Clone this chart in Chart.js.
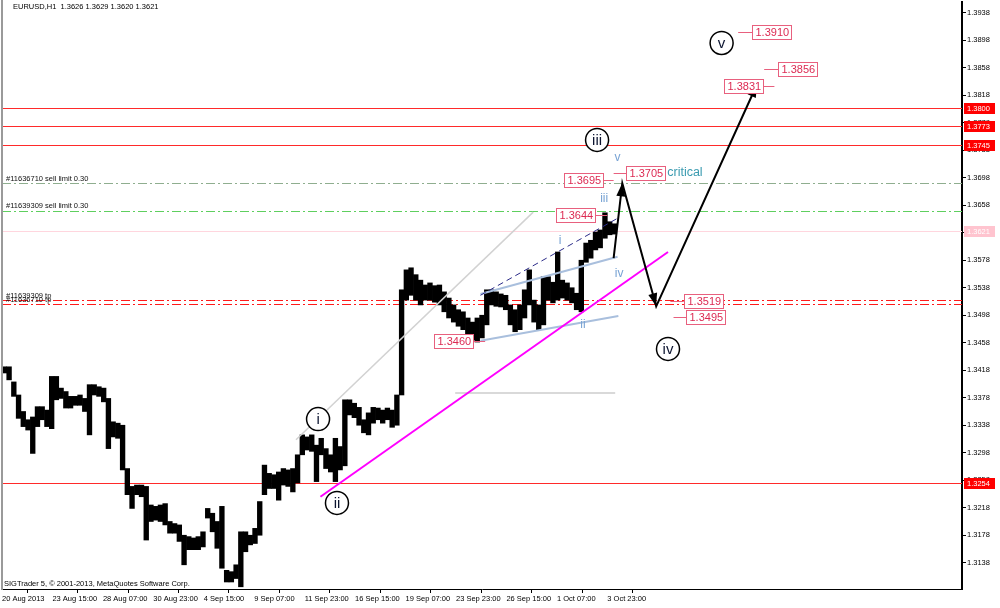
<!DOCTYPE html>
<html>
<head>
<meta charset="utf-8">
<script src="https://cdn.jsdelivr.net/npm/chart.js@4.4.0/dist/chart.umd.min.js"></script>
<style>
  html, body { margin: 0; padding: 0; background: #fff; }
  #chart { display: block; }
</style>
</head>
<body>
<canvas id="chart" width="1000" height="608"></canvas>
<script>
// EURUSD H1, 6-hour groups of bars (low / high)
const groupHours = 6;
const lows = [
  1.3414, 1.3404, 1.3380, 1.3348, 1.3336, 1.3331, 1.3297, 1.3336, 1.3346, 1.3336,
  1.3333, 1.3375, 1.3377, 1.3363, 1.3363, 1.3367, 1.3367, 1.3358, 1.3324, 1.3382,
  1.3380, 1.3372, 1.3304, 1.3321, 1.3319, 1.3273, 1.3237, 1.3217, 1.3237, 1.3234,
  1.3171, 1.3198, 1.3200, 1.3198, 1.3193, 1.3181, 1.3181, 1.3169, 1.3135, 1.3157,
  1.3157, 1.3157, 1.3161, 1.3203, 1.3183, 1.3159, 1.3130, 1.3110, 1.3110, 1.3115,
  1.3103, 1.3154, 1.3164, 1.3166, 1.3178, 1.3237, 1.3246, 1.3246, 1.3229, 1.3251,
  1.3249, 1.3241, 1.3254, 1.3295, 1.3302, 1.3300, 1.3256, 1.3295, 1.3275, 1.3270,
  1.3256, 1.3273, 1.3279, 1.3353, 1.3349, 1.3338, 1.3327, 1.3324, 1.3341, 1.3346,
  1.3341, 1.3346, 1.3335, 1.3338, 1.3382, 1.3520, 1.3527, 1.3520, 1.3513, 1.3520,
  1.3520, 1.3517, 1.3513, 1.3503, 1.3494, 1.3488, 1.3482, 1.3477, 1.3469, 1.3462,
  1.3459, 1.3465, 1.3484, 1.3513, 1.3511, 1.3510, 1.3506, 1.3484, 1.3474, 1.3477,
  1.3494, 1.3513, 1.3488, 1.3477, 1.3484, 1.3520, 1.3516, 1.3520, 1.3523, 1.3520,
  1.3516, 1.3506, 1.3503, 1.3575, 1.3581, 1.3593, 1.3596, 1.3610, 1.3615, 1.3616
];
const highs = [
  1.3423, 1.3423, 1.3401, 1.3382, 1.3358, 1.3346, 1.3350, 1.3365, 1.3365, 1.3360,
  1.3409, 1.3409, 1.3392, 1.3387, 1.3380, 1.3380, 1.3382, 1.3377, 1.3397, 1.3397,
  1.3394, 1.3392, 1.3377, 1.3343, 1.3341, 1.3338, 1.3275, 1.3249, 1.3251, 1.3251,
  1.3249, 1.3222, 1.3220, 1.3222, 1.3224, 1.3198, 1.3195, 1.3193, 1.3178, 1.3176,
  1.3174, 1.3176, 1.3183, 1.3217, 1.3210, 1.3198, 1.3220, 1.3127, 1.3125, 1.3135,
  1.3183, 1.3183, 1.3178, 1.3188, 1.3227, 1.3280, 1.3268, 1.3266, 1.3270, 1.3275,
  1.3273, 1.3275, 1.3295, 1.3324, 1.3321, 1.3324, 1.3309, 1.3319, 1.3304, 1.3295,
  1.3319, 1.3307, 1.3375, 1.3375, 1.3370, 1.3364, 1.3346, 1.3356, 1.3364, 1.3363,
  1.3360, 1.3363, 1.3360, 1.3382, 1.3535, 1.3564, 1.3567, 1.3557, 1.3549, 1.3542,
  1.3545, 1.3541, 1.3542, 1.3532, 1.3523, 1.3513, 1.3506, 1.3503, 1.3494, 1.3488,
  1.3494, 1.3498, 1.3535, 1.3535, 1.3532, 1.3529, 1.3527, 1.3513, 1.3506, 1.3513,
  1.3535, 1.3564, 1.3520, 1.3513, 1.3554, 1.3554, 1.3546, 1.3590, 1.3549, 1.3545,
  1.3538, 1.3530, 1.3578, 1.3603, 1.3607, 1.3619, 1.3622, 1.3647, 1.3634, 1.3631
];

const xMax = 1218;
const xTickBars = [0, 64, 128, 192, 256, 320, 384, 448, 512, 576, 640, 704, 768];
const xTickLabels = ['20 Aug 2013', '23 Aug 15:00', '28 Aug 07:00', '30 Aug 23:00', '4 Sep 15:00',
  '9 Sep 07:00', '11 Sep 23:00', '16 Sep 15:00', '19 Sep 07:00', '23 Sep 23:00',
  '26 Sep 15:00', '1 Oct 07:00', '3 Oct 23:00'];
const yMin = 1.30998, yMax = 1.39536;
const yTicks = [1.3138, 1.3178, 1.3218, 1.3258, 1.3298, 1.3338, 1.3378, 1.3418, 1.3458, 1.3498,
  1.3538, 1.3578, 1.3618, 1.3658, 1.3698, 1.3738, 1.3778, 1.3818, 1.3858, 1.3898, 1.3938];

// horizontal levels
const redLevels = [1.3800, 1.3773, 1.3745, 1.3254];
const lastPrice = 1.3621;
const orderLevels = [1.3690, 1.3650];
const orderTexts = ['#11636710 sell limit 0.30', '#11639309 sell limit 0.30'];
const orderColors = ['#8fae8f', '#5fcf5f'];
const tpLevels = [1.3520, 1.3514];
const tpTexts = ['#11639309 tp', '#11636710 tp'];

// trend lines: [bar1, bar2], [price1, price2]
const channelBars = [373, 674],  channelPrices = [1.3317, 1.3648];
const baseBars = [404, 845],     basePrices = [1.3234, 1.3590];
const upperBars = [607, 781],    upperPrices = [1.3529, 1.3583];
const lowerBars = [607, 782],    lowerPrices = [1.3461, 1.3497];
const dashBars = [607, 781],     dashPrices = [1.3527, 1.3639];
const flatBars = [575, 778],     flatPrices = [1.3385, 1.3385];
// forecast path
const forecastBars = [776, 787, 830, 958];
const forecastPrices = [1.3581, 1.3690, 1.3511, 1.3834];

// target price labels: price, leader from/to bar, box side
const targetPrices = [1.3910, 1.3856, 1.3831, 1.3705, 1.3695, 1.3644, 1.3460, 1.3519, 1.3495];
const targetLeads = [[934, 952], [967, 985], [965, 980], [776, 792], [762, 776], [752, 768], [597, 613], [848, 865], [852, 868]];
const targetSides = ['right', 'right', 'left', 'right', 'left', 'left', 'left', 'right', 'right'];

// wave counts
const bigWaveText = ['i', 'ii', 'iii', 'iv', 'v'];
const bigWaveBars = [401, 425, 755, 845, 913];
const bigWavePrices = [1.3347, 1.3225, 1.3753, 1.3449, 1.3894];
const smallWaveText = ['i', 'ii', 'iii', 'iv', 'v'];
const smallWaveBars = [708, 737, 764, 783, 781];
const smallWavePrices = [1.3607, 1.3484, 1.3667, 1.3558, 1.3727];

const FONT = 'Liberation Sans, Arial, sans-serif';

const priceData = lows.map((lo, i) => ({ x: i * groupHours + groupHours / 2, y: [lo, highs[i]] }));
const seg = (bars, prices) => bars.map((b, i) => ({ x: b, y: prices[i] }));

function lineSet(data, color, width, dash) {
  return {
    type: 'line', data: data, borderColor: color, borderWidth: width,
    borderDash: dash || [], pointRadius: 0, fill: false, tension: 0, order: 1
  };
}

function hline(ctx, area, py, color, dash, width) {
  const yy = Math.round(py) + 0.5;
  ctx.beginPath();
  ctx.setLineDash(dash);
  ctx.strokeStyle = color;
  ctx.lineWidth = width || 1;
  ctx.moveTo(area.left, yy);
  ctx.lineTo(area.right, yy);
  ctx.stroke();
  ctx.setLineDash([]);
}

function arrowHead(ctx, x0, y0, x1, y1) {
  const ang = Math.atan2(y1 - y0, x1 - x0);
  const len = 13, half = 4.5;
  ctx.beginPath();
  ctx.moveTo(x1, y1);
  ctx.lineTo(x1 - len * Math.cos(ang) + half * Math.sin(ang), y1 - len * Math.sin(ang) - half * Math.cos(ang));
  ctx.lineTo(x1 - len * Math.cos(ang) - half * Math.sin(ang), y1 - len * Math.sin(ang) + half * Math.cos(ang));
  ctx.closePath();
  ctx.fillStyle = '#000';
  ctx.fill();
}

const overlay = {
  id: 'overlay',
  beforeDatasetsDraw(chart) {
    const { ctx, chartArea: a, scales: { y } } = chart;
    ctx.save();
    hline(ctx, a, y.getPixelForValue(lastPrice), '#ffd6de', []);
    orderLevels.forEach((p, i) => hline(ctx, a, y.getPixelForValue(p), orderColors[i], [9, 3, 2, 3]));
    tpLevels.forEach(p => hline(ctx, a, y.getPixelForValue(p), '#ff1a1a', [9, 3, 2, 3]));
    redLevels.forEach(p => hline(ctx, a, y.getPixelForValue(p), '#ff2a2a', []));
    ctx.restore();
  },
  afterDatasetsDraw(chart) {
    const { ctx, scales: { x, y } } = chart;
    ctx.save();
    // arrow heads on forecast path
    const pts = forecastBars.map((b, i) => [x.getPixelForValue(b), y.getPixelForValue(forecastPrices[i])]);
    for (let i = 1; i < pts.length; i++) arrowHead(ctx, pts[i - 1][0], pts[i - 1][1], pts[i][0], pts[i][1]);

    // order texts
    ctx.font = '7.5px ' + FONT;
    ctx.fillStyle = '#111';
    ctx.textBaseline = 'bottom';
    ctx.textAlign = 'left';
    orderLevels.forEach((p, i) => ctx.fillText(orderTexts[i], 6, y.getPixelForValue(p) - 1));
    tpTexts.forEach((t, i) => ctx.fillText(t, 6, y.getPixelForValue(tpLevels[0]) + i * 4));

    // target labels
    ctx.font = '11px ' + FONT;
    ctx.textBaseline = 'middle';
    targetPrices.forEach((p, i) => {
      const py = Math.round(y.getPixelForValue(p)) + 0.5;
      const x1 = x.getPixelForValue(targetLeads[i][0]);
      const x2 = x.getPixelForValue(targetLeads[i][1]);
      ctx.strokeStyle = '#e8607e';
      ctx.lineWidth = 1;
      ctx.beginPath(); ctx.moveTo(x1, py); ctx.lineTo(x2, py); ctx.stroke();
      const txt = p.toFixed(4);
      const w = Math.ceil(ctx.measureText(txt).width) + 5;
      const bx = targetSides[i] === 'right' ? Math.round(x2) + 0.5 : Math.round(x1 - w) + 0.5;
      ctx.fillStyle = '#fff';
      ctx.fillRect(bx, py - 7, w, 14);
      ctx.strokeRect(bx, py - 7, w, 14);
      ctx.fillStyle = '#dc2a52';
      ctx.textAlign = 'left';
      ctx.fillText(txt, bx + 3, py + 0.5);
    });

    // critical
    ctx.font = '12.5px ' + FONT;
    ctx.fillStyle = '#3a9bb0';
    ctx.fillText('critical', x.getPixelForValue(844), y.getPixelForValue(1.3705));

    // small waves
    ctx.font = '12px ' + FONT;
    ctx.fillStyle = '#78a3d4';
    ctx.textAlign = 'center';
    smallWaveText.forEach((t, i) => ctx.fillText(t, x.getPixelForValue(smallWaveBars[i]), y.getPixelForValue(smallWavePrices[i])));

    // big waves
    bigWaveText.forEach((t, i) => {
      const cx = x.getPixelForValue(bigWaveBars[i]);
      const cy = y.getPixelForValue(bigWavePrices[i]);
      ctx.beginPath();
      ctx.arc(cx, cy, 11.5, 0, Math.PI * 2);
      ctx.fillStyle = '#fff';
      ctx.fill();
      ctx.lineWidth = 1.5;
      ctx.strokeStyle = '#000';
      ctx.stroke();
      ctx.font = '15px ' + FONT;
      ctx.fillStyle = '#0c1430';
      ctx.fillText(t, cx, cy + 1);
    });
    ctx.restore();
  },
  afterDraw(chart) {
    const { ctx, chartArea: a, scales: { y } } = chart;
    ctx.save();
    // left frame
    ctx.fillStyle = '#9a9a9a';
    ctx.fillRect(1, 0, 2, a.bottom + 1);
    // header and footer
    ctx.font = '7.5px ' + FONT;
    ctx.fillStyle = '#000';
    ctx.textBaseline = 'middle';
    ctx.textAlign = 'left';
    ctx.fillText('EURUSD,H1  1.3626 1.3629 1.3620 1.3621', 13, 7);
    ctx.fillText('SIGTrader 5, \u00a9 2001-2013, MetaQuotes Software Corp.', 4, a.bottom - 5);
    // axis price boxes
    const boxes = redLevels.map(p => [p, '#ff0000']).concat([[lastPrice, '#ffc4cf']]);
    boxes.forEach(([p, col]) => {
      const py = Math.round(y.getPixelForValue(p));
      ctx.fillStyle = col;
      ctx.fillRect(a.right + 2, py - 5, 31, 11);
      ctx.fillStyle = '#fff';
      ctx.fillText(p.toFixed(4), a.right + 5, py + 0.5);
    });
    ctx.restore();
  }
};

new Chart(document.getElementById('chart'), {
  type: 'bar',
  data: {
    datasets: [
      lineSet(seg(forecastBars, forecastPrices), '#000', 2),
      lineSet(seg(baseBars, basePrices), '#ff00ff', 2),
      lineSet(seg(dashBars, dashPrices), '#2b2b88', 1, [6, 4]),
      lineSet(seg(upperBars, upperPrices), '#a9bfdd', 2),
      lineSet(seg(lowerBars, lowerPrices), '#a9bfdd', 2),
      lineSet(seg(channelBars, channelPrices), '#d2d2d2', 1.5),
      lineSet(seg(flatBars, flatPrices), '#cccccc', 1.5),
      {
        type: 'bar', data: priceData, backgroundColor: '#000', borderWidth: 0,
        barThickness: 4.7, order: 2
      }
    ]
  },
  options: {
    responsive: false,
    animation: false,
    devicePixelRatio: 1,
    layout: { padding: { left: 2, top: 2, right: 0, bottom: 0 } },
    plugins: { legend: { display: false }, tooltip: { enabled: false } },
    scales: {
      x: {
        type: 'linear', min: 0, max: xMax, offset: false, bounds: 'data',
        afterBuildTicks: s => { s.ticks = xTickBars.map(v => ({ value: v })); },
        afterFit: s => { s.height = 19; s.paddingLeft = 0; s.paddingRight = 0; },
        ticks: {
          align: 'start', autoSkip: false, maxRotation: 0, padding: 1, color: '#000',
          font: { family: FONT, size: 7.5 },
          callback: (v, i) => xTickLabels[i]
        },
        grid: { drawOnChartArea: false, tickLength: 4, color: '#000' },
        border: { display: true, color: '#000', width: 1 }
      },
      y: {
        type: 'linear', position: 'right', min: yMin, max: yMax, bounds: 'data',
        afterBuildTicks: s => { s.ticks = yTicks.map(v => ({ value: v })); },
        afterFit: s => { s.width = 38; s.paddingTop = 0; s.paddingBottom = 0; },
        ticks: {
          autoSkip: false, padding: 1, color: '#000',
          font: { family: FONT, size: 7.5 },
          callback: v => v.toFixed(4)
        },
        grid: { drawOnChartArea: false, tickLength: 4, color: '#000' },
        border: { display: true, color: '#000', width: 2 }
      }
    }
  },
  plugins: [overlay]
});
</script>
</body>
</html>
